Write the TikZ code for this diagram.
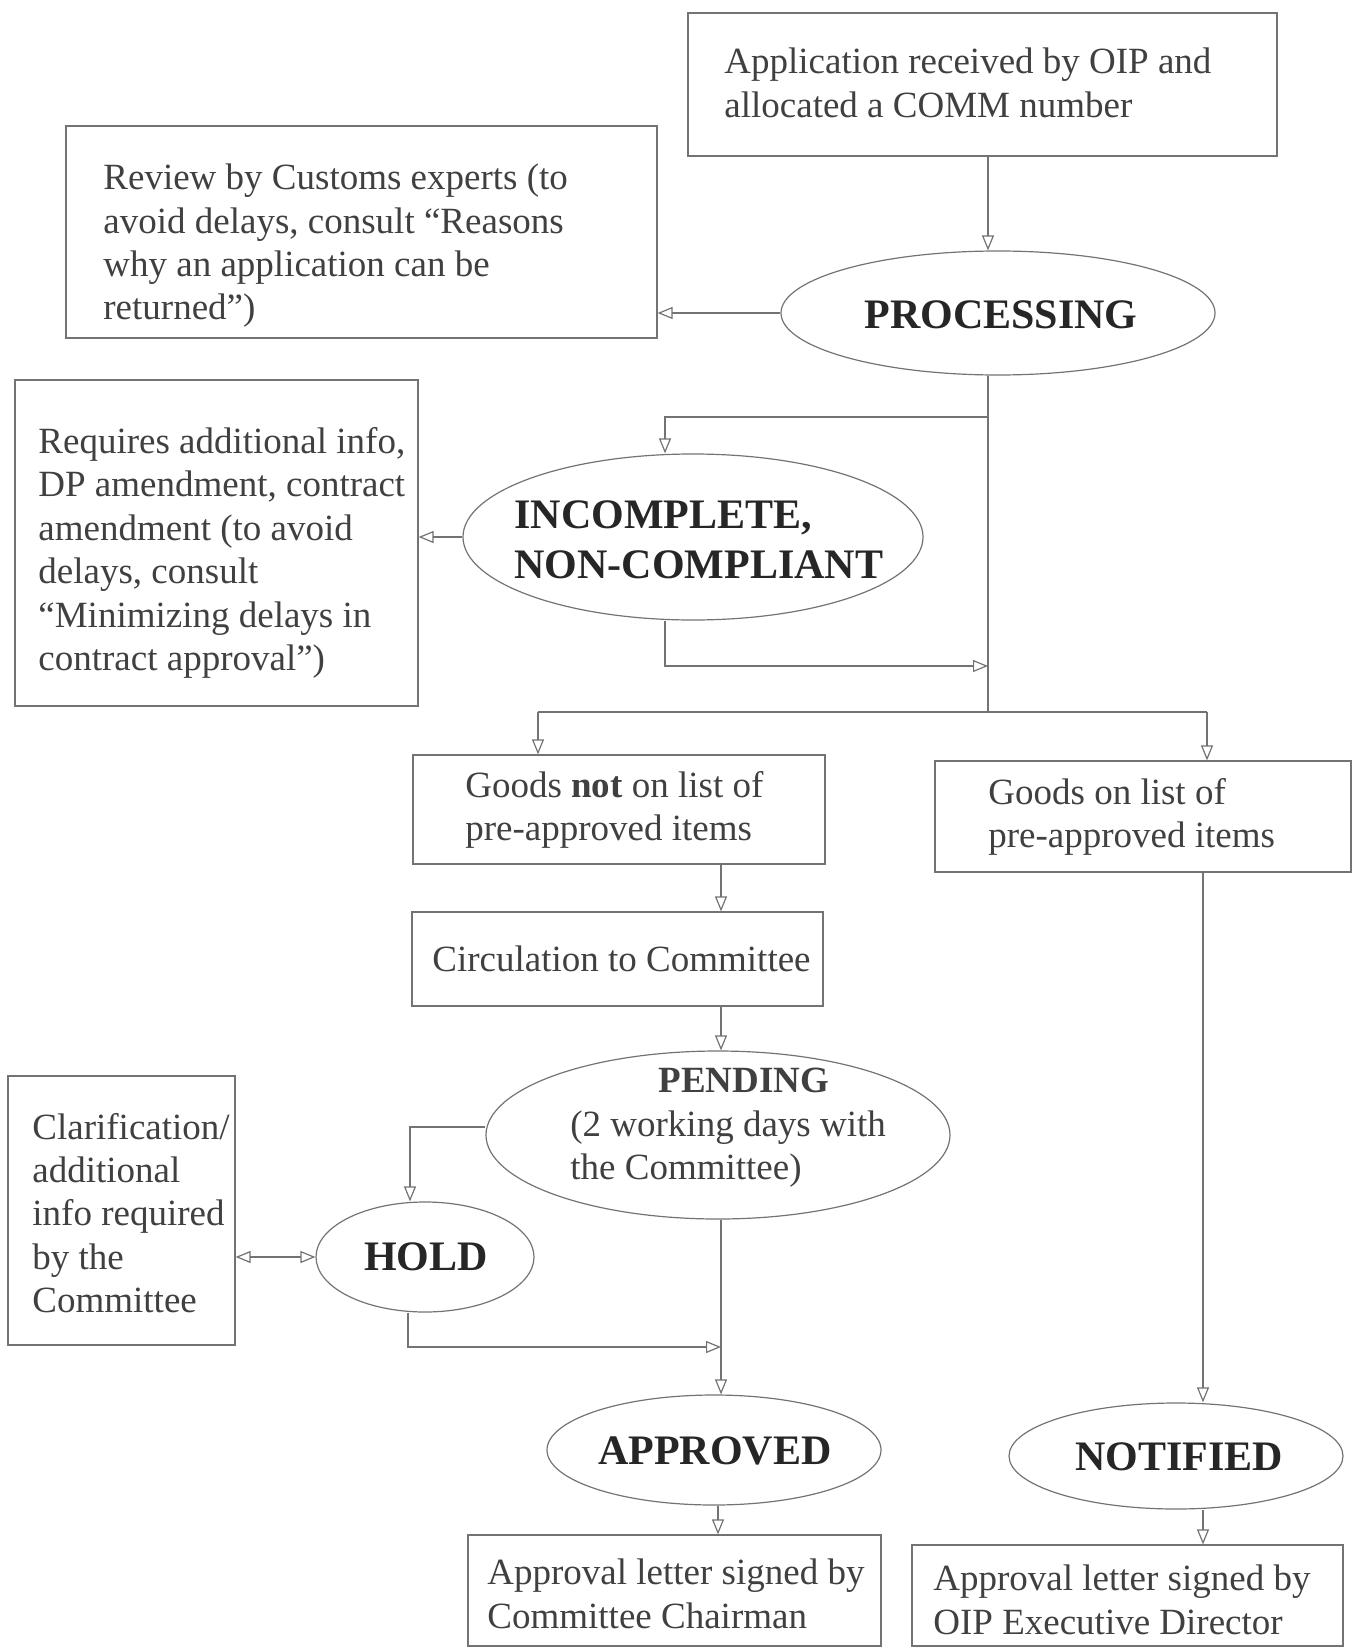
\documentclass[tikz,border=0pt]{standalone}
\usepackage{fontspec}
\setmainfont{Liberation Serif}
\usetikzlibrary{shapes.geometric,arrows.meta}
\begin{document}
\begin{tikzpicture}[x=0.5pt,y=-0.5pt,
  ln/.style={draw=black!55, line width=0.6pt},
  arr/.style={ln, -{Triangle[open,length=7.5pt,width=6pt]}},
  dbl/.style={ln, {Triangle[open,length=7.5pt,width=6pt]}-{Triangle[open,length=7.5pt,width=6pt]}},
  box/.style={draw=black!55, line width=0.6pt, rectangle, inner sep=0pt},
  oval/.style={draw=black!55, line width=0.6pt, ellipse, inner sep=0pt},
  txt/.style={anchor=west, align=left, inner sep=0pt, text=black!75, font=\fontsize{18.5}{21.7}\selectfont},
  hd/.style={inner sep=0pt, text=black!85, font=\fontsize{21}{25}\selectfont\bfseries}
]
\useasboundingbox (0,0) rectangle (1359,1648);

% boxes
\node[box, minimum width=294.5pt, minimum height=71.5pt] (A) at (982.5,84.5) {};
\node[box, minimum width=295.5pt, minimum height=106pt] (review) at (361.5,232) {};
\node[box, minimum width=201.5pt, minimum height=163pt] (req) at (216.5,543) {};
\node[box, minimum width=206pt, minimum height=54.5pt] (gnot) at (619,809.5) {};
\node[box, minimum width=208pt, minimum height=55.5pt] (gon) at (1143,816.5) {};
\node[box, minimum width=205.5pt, minimum height=47pt] (circ) at (617.5,959) {};
\node[box, minimum width=113.5pt, minimum height=134.5pt] (clar) at (121.5,1210.5) {};
\node[box, minimum width=206.5pt, minimum height=55.5pt] (let1) at (674.5,1590.5) {};
\node[box, minimum width=215.5pt, minimum height=50.5pt] (let2) at (1127.5,1595.5) {};

% ellipses
\node[oval, minimum width=217pt, minimum height=62pt] (proc) at (998,313) {};
\node[oval, minimum width=230pt, minimum height=83pt] (inc) at (693,537) {};
\node[oval, minimum width=232pt, minimum height=84pt] (pend) at (718,1135) {};
\node[oval, minimum width=109pt, minimum height=55pt] (hold) at (425,1257) {};
\node[oval, minimum width=167pt, minimum height=55pt] (appr) at (714,1450) {};
\node[oval, minimum width=167pt, minimum height=53pt] (notif) at (1176,1456) {};

% texts
\node[txt] (tA) at (724,83) {Application received by OIP and\\allocated a COMM number};
\node[txt] (trev) at (103,246) {Review by Customs experts (to\\avoid delays, consult “Reasons\\why an application can be\\returned”)};
\node[txt] (treq) at (38,553) {Requires additional info,\\DP amendment, contract\\amendment (to avoid\\delays, consult\\“Minimizing delays in\\contract approval”)};
\node[txt] (tgn) at (465,810) {Goods \textbf{not} on list of\\pre-approved items};
\node[txt] (tgo) at (988,817) {Goods on list of\\pre-approved items};
\node[txt] (tcirc) at (432,959) {Circulation to Committee};
\node[txt] (tclar) at (32,1213) {Clarification/\\additional\\info required\\by the\\Committee};
\node[txt] (tl1) at (487,1594) {Approval letter signed by\\Committee Chairman};
\node[txt] (tl2) at (933,1600) {Approval letter signed by\\OIP Executive Director};

\node[hd] (tproc) at (1001,315) {PROCESSING};
\node[hd, anchor=west, align=left] (tinc) at (514,540) {INCOMPLETE,\\NON-COMPLIANT};
\node[txt] (tpend) at (570,1128) {\hspace*{44pt}\textbf{PENDING}\\(2 working days with\\the Committee)};
\node[hd] (thold) at (426,1257) {HOLD};
\node[hd] (tappr) at (715,1451) {APPROVED};
\node[hd] (tnot) at (1179,1457) {NOTIFIED};

% connectors
\coordinate (tk1) at (988,417);
\coordinate (tk2) at (988,666);
\coordinate (tk3) at (988,712);
\coordinate (incL) at (665,417);
\coordinate (incB) at (665,666);
\coordinate (sL) at (538,712);
\coordinate (sR) at (1207,712);
\coordinate (cx) at (721,0);
\coordinate (rx) at (1203,0);
\coordinate (hx) at (410,1127);
\coordinate (hb) at (408,1347);
\coordinate (ax) at (718,0);

\draw[arr] (A.south -| tk1) -- (proc.north -| tk1);
\draw[arr] (proc.west) -- (review.east |- proc.west);
\draw[ln] (proc.south -| tk1) -- (tk3);
\draw[arr] (tk1) -- (incL) -- (incL |- inc.north);
\draw[arr] (inc.west) -- (req.east |- inc.west);
\draw[arr] (incB |- inc.south) -- (incB) -- (tk2);
\draw[ln] (sL) -- (sR);
\draw[arr] (sL) -- (sL |- gnot.north);
\draw[arr] (sR) -- (sR |- gon.north);
\draw[arr] (gnot.south -| cx) -- (circ.north -| cx);
\draw[arr] (circ.south -| cx) -- (pend.north -| cx);
\draw[arr] (pend.west |- hx) -- (hx) -- (hx |- hold.north);
\draw[dbl] (clar.east |- hold.west) -- (hold.west);
\draw[arr] (hb |- hold.south) -- (hb) -- (hb -| cx);
\draw[arr] (pend.south -| cx) -- (appr.north -| cx);
\draw[arr] (appr.south -| ax) -- (let1.north -| ax);
\draw[arr] (gon.south -| rx) -- (notif.north -| rx);
\draw[arr] (notif.south -| rx) -- (let2.north -| rx);
\end{tikzpicture}
\end{document}
